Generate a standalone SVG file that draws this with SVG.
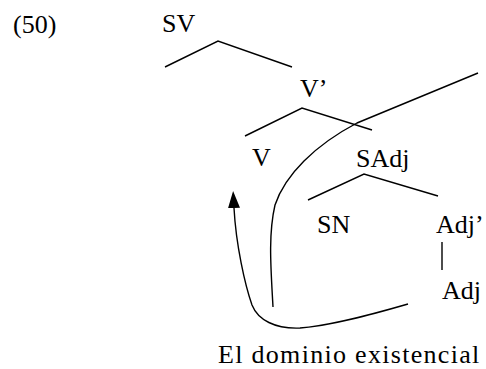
<svg xmlns="http://www.w3.org/2000/svg" width="486" height="369" viewBox="0 0 486 369">
<style>
text{font-family:"Liberation Serif","Times New Roman",serif;font-size:26px;fill:#000}
.e{fill:none;stroke:#000;stroke-width:1.4}
</style>
<defs>
<marker id="ah" viewBox="0 0 17 12" refX="0" refY="6" markerWidth="17" markerHeight="12" markerUnits="userSpaceOnUse" orient="auto">
<path d="M0,0 L17,6 L0,12 Z" fill="#000"/>
</marker>
</defs>
<rect width="486" height="369" fill="#fff"/>
<text x="13" y="33">(50)</text>
<g id="SV"><text x="162" y="32">SV</text></g>
<g id="V1"><text x="300" y="97">V’</text></g>
<g id="V"><text x="252" y="166">V</text></g>
<g id="SAdj"><text x="356" y="167">SAdj</text></g>
<g id="SN"><text x="317" y="233">SN</text></g>
<g id="Adj1"><text x="436" y="233">Adj’</text></g>
<g id="Adj"><text x="442" y="299">Adj</text></g>
<g id="label"><text x="218" y="363" font-size="25" letter-spacing="1.3">El dominio existencial</text></g>
<g id="connectors">
<polyline class="e" points="165,67 218,41 292,67"/>
<polyline class="e" points="245,136 302,108 372,130"/>
<polyline class="e" points="308,200 364,174 438,196"/>
<line class="e" x1="442" y1="242" x2="442" y2="270"/>
<path class="e" d="M478,73 L357,123 C315,145 285,175 275,205 C268,235 271,270 273,307"/>
<path class="e" d="M408,304 C370,315 330,326 300,328 C275,329 258,320 252,305 C245,285 236,245 234,208" marker-end="url(#ah)"/>
</g>
</svg>
